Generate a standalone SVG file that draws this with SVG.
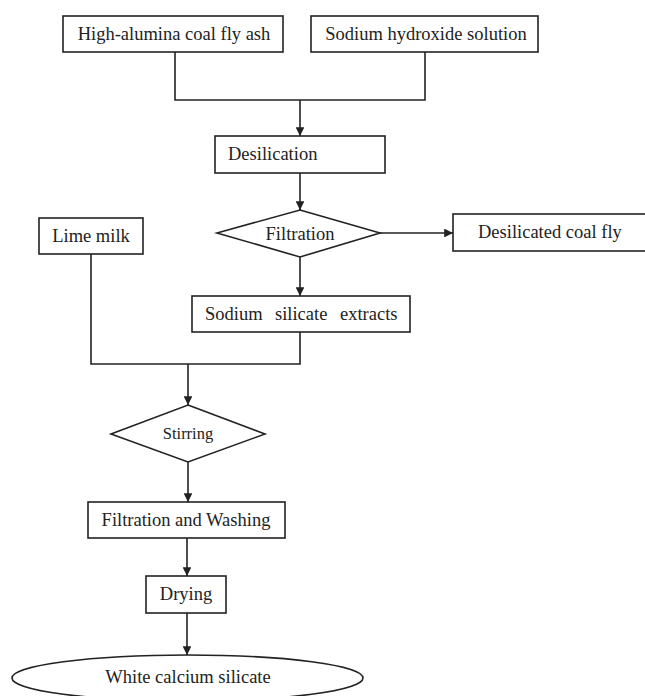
<svg xmlns="http://www.w3.org/2000/svg" width="645" height="696" viewBox="0 0 645 696">
<style>
.shape{fill:#fff;stroke:#222;stroke-width:1.6}
.lbl{font-family:"Liberation Serif","Times New Roman",serif;font-size:18.5px;fill:#222}
.c{text-anchor:middle}
.conn{fill:none;stroke:#222;stroke-width:1.6}
</style>
<defs>
<marker id="arr" viewBox="0 0 10 10" refX="10" refY="5" markerWidth="5.5" markerHeight="5.5" markerUnits="strokeWidth" orient="auto">
<path d="M0,0 L10,5 L0,10 z" fill="#222"/>
</marker>
</defs>
<rect width="645" height="696" fill="#fff"/>
<g id="connectors">
<polyline class="conn" points="175,52 175,100 425,100 425,52"/>
<line class="conn" x1="300" y1="100" x2="300" y2="136" marker-end="url(#arr)"/>
<line class="conn" x1="300" y1="173" x2="300" y2="210" marker-end="url(#arr)"/>
<line class="conn" x1="380" y1="233" x2="453" y2="233" marker-end="url(#arr)"/>
<line class="conn" x1="300" y1="257" x2="300" y2="296" marker-end="url(#arr)"/>
<polyline class="conn" points="91,254 91,364 300,364 300,332"/>
<line class="conn" x1="188" y1="364" x2="188" y2="405" marker-end="url(#arr)"/>
<line class="conn" x1="188" y1="462" x2="188" y2="502" marker-end="url(#arr)"/>
<line class="conn" x1="187" y1="538" x2="187" y2="576" marker-end="url(#arr)"/>
<line class="conn" x1="187" y1="613" x2="187" y2="655" marker-end="url(#arr)"/>
</g>
<g id="n-flyash">
<rect class="shape" x="63" y="16" width="220" height="36"/>
<text class="lbl c" x="174" y="40">High-alumina coal fly ash</text>
</g>
<g id="n-naoh">
<rect class="shape" x="311" y="16" width="227" height="36"/>
<text class="lbl c" x="426" y="40">Sodium hydroxide solution</text>
</g>
<g id="n-desilication">
<rect class="shape" x="215" y="136" width="170" height="37"/>
<text class="lbl" x="228" y="160">Desilication</text>
</g>
<g id="n-filtration">
<polygon class="shape" points="300,210 380,233 300,257 217,233"/>
<text class="lbl c" x="300" y="240">Filtration</text>
</g>
<g id="n-desilicated">
<rect class="shape" x="453" y="214" width="200" height="37"/>
<text class="lbl" x="478" y="238">Desilicated coal fly</text>
</g>
<g id="n-lime">
<rect class="shape" x="39" y="218" width="104" height="36"/>
<text class="lbl c" x="91" y="242">Lime milk</text>
</g>
<g id="n-extracts">
<rect class="shape" x="192" y="296" width="218" height="36"/>
<text class="lbl" y="320"><tspan x="205">Sodium</tspan><tspan x="275">silicate</tspan><tspan x="340">extracts</tspan></text>
</g>
<g id="n-stirring">
<polygon class="shape" points="188,405 265,434 188,462 111,434"/>
<text class="lbl c" x="188" y="439" style="font-size:16.5px">Stirring</text>
</g>
<g id="n-washing">
<rect class="shape" x="88" y="502" width="197" height="36"/>
<text class="lbl c" x="186" y="526">Filtration and Washing</text>
</g>
<g id="n-drying">
<rect class="shape" x="146" y="576" width="80" height="37"/>
<text class="lbl c" x="186" y="600">Drying</text>
</g>
<g id="n-product">
<ellipse class="shape" cx="187.5" cy="678" rx="175.5" ry="23"/>
<text class="lbl c" x="188" y="683">White calcium silicate</text>
</g>
</svg>
